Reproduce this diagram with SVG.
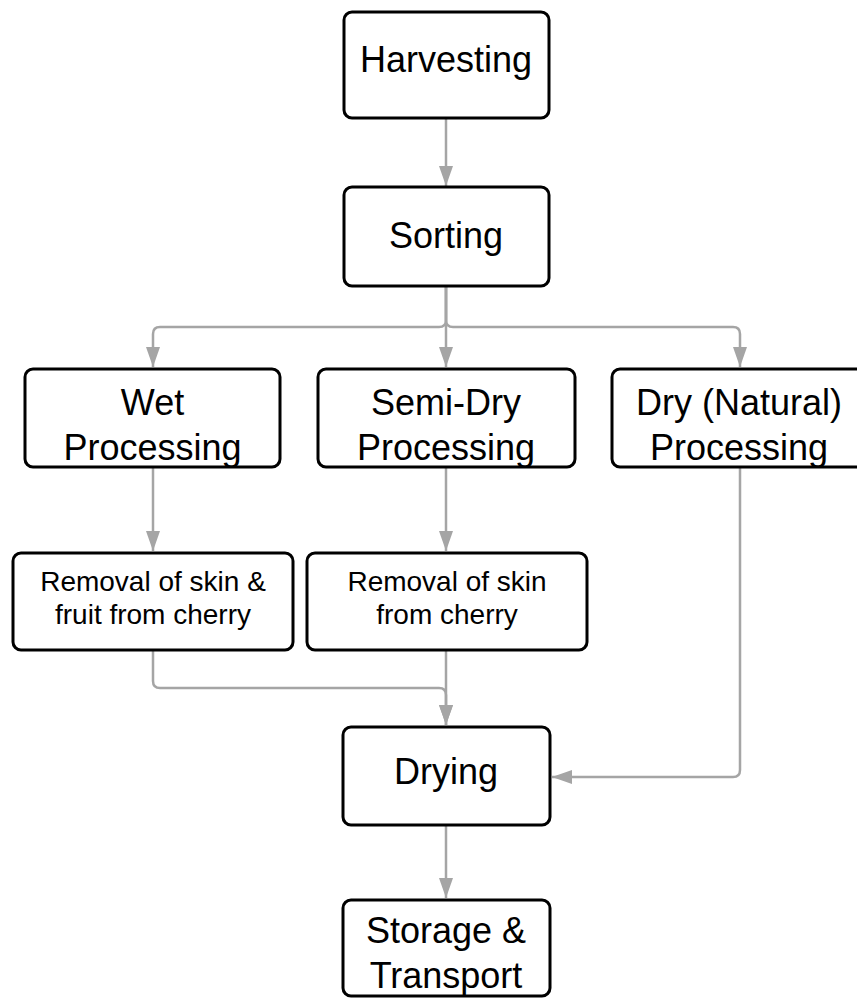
<svg xmlns="http://www.w3.org/2000/svg" width="857" height="1000" viewBox="0 0 857 1000">
<style>
.box{fill:#fff;stroke:#000;stroke-width:3}
.t{font-family:"Liberation Sans",Arial,sans-serif;font-size:36px;fill:#000;text-anchor:middle}
.s{font-family:"Liberation Sans",Arial,sans-serif;font-size:28px;fill:#000;text-anchor:middle}
.c{fill:none;stroke:#a5a5a5;stroke-width:2.5}
</style>
<defs>
<marker id="ah" markerUnits="userSpaceOnUse" markerWidth="20" markerHeight="14" refX="20" refY="7" orient="auto">
<path d="M0,0 L20,7 L0,14 z" fill="#a5a5a5"/>
</marker>
</defs>
<g id="connectors">
<path class="c" d="M446,118 V186" marker-end="url(#ah)"/>
<path class="c" d="M446,286 V367" marker-end="url(#ah)"/>
<path class="c" d="M446,286 V320 Q446,327 439,327 H160 Q153,327 153,334 V367" marker-end="url(#ah)"/>
<path class="c" d="M446,286 V320 Q446,327 453,327 H733 Q740,327 740,334 V367" marker-end="url(#ah)"/>
<path class="c" d="M153,467 V551" marker-end="url(#ah)"/>
<path class="c" d="M446,467 V551" marker-end="url(#ah)"/>
<path class="c" d="M153,650 V681 Q153,688 160,688 H439 Q446,688 446,695 V725" marker-end="url(#ah)"/>
<path class="c" d="M446,650 V725" marker-end="url(#ah)"/>
<path class="c" d="M740,467 V770 Q740,777 733,777 H552" marker-end="url(#ah)"/>
<path class="c" d="M446,825 V898" marker-end="url(#ah)"/>
</g>
<g id="harvesting">
<rect class="box" x="344" y="12" width="205" height="106" rx="8"/>
<text class="t" x="446" y="72">Harvesting</text>
</g>
<g id="sorting">
<rect class="box" x="344" y="187" width="205" height="99" rx="8"/>
<text class="t" x="446" y="248">Sorting</text>
</g>
<g id="wet">
<rect class="box" x="25" y="369" width="255" height="98" rx="8"/>
<text class="t" x="152.5" y="415">Wet</text>
<text class="t" x="152.5" y="460">Processing</text>
</g>
<g id="semidry">
<rect class="box" x="318" y="369" width="257" height="98" rx="8"/>
<text class="t" x="446" y="415">Semi-Dry</text>
<text class="t" x="446" y="460">Processing</text>
</g>
<g id="dry">
<rect class="box" x="612" y="369" width="254" height="98" rx="8"/>
<text class="t" x="739" y="415">Dry (Natural)</text>
<text class="t" x="739" y="460">Processing</text>
</g>
<g id="removal1">
<rect class="box" x="13" y="553" width="280" height="97" rx="8"/>
<text class="s" x="153" y="591">Removal of skin &amp;</text>
<text class="s" x="153" y="624">fruit from cherry</text>
</g>
<g id="removal2">
<rect class="box" x="307" y="553" width="280" height="97" rx="8"/>
<text class="s" x="447" y="591">Removal of skin</text>
<text class="s" x="447" y="624">from cherry</text>
</g>
<g id="drying">
<rect class="box" x="343" y="727" width="207" height="98" rx="8"/>
<text class="t" x="446" y="784">Drying</text>
</g>
<g id="storage">
<rect class="box" x="343" y="900" width="207" height="96" rx="8"/>
<text class="t" x="446" y="943">Storage &amp;</text>
<text class="t" x="446" y="988">Transport</text>
</g>
</svg>
